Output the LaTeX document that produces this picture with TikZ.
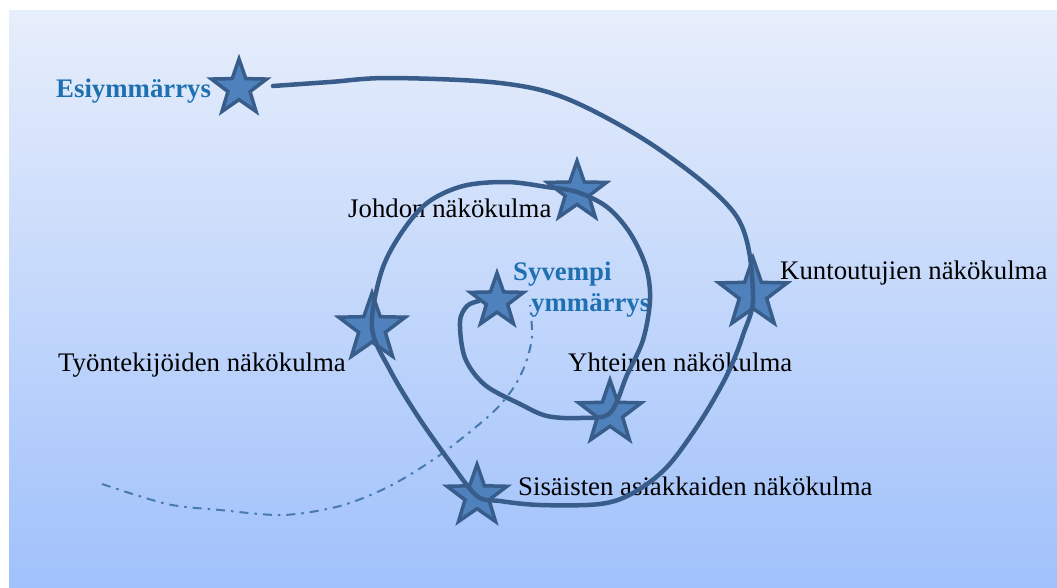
\documentclass[tikz,border=0pt]{standalone}
\usepackage{fontspec}
\setmainfont{Liberation Serif}
\usetikzlibrary{shapes.geometric}

\definecolor{starfill}{RGB}{79,129,189}
\definecolor{starline}{RGB}{56,93,138}
\definecolor{inkblue}{RGB}{31,112,176}
\definecolor{trailblue}{RGB}{72,122,176}
\definecolor{skytop}{RGB}{231,238,251}
\definecolor{skybottom}{RGB}{160,193,251}

\begin{document}
\begin{tikzpicture}[x=1pt, y=-1pt,
    spot/.style={star, star points=5, star point ratio=2.5, draw=starline, fill=starfill, line width=3.5pt, inner sep=0pt},
    view/.style={anchor=base west, inner sep=0pt, font=\fontsize{26.8}{32}\selectfont},
    goal/.style={view, text=inkblue, font=\fontsize{26.8}{32}\selectfont\bfseries}]
    \useasboundingbox (0,0) rectangle (1057,587);
    \fill[top color=skytop, bottom color=skybottom] (9,10) rectangle (1057,587);

    \coordinate (trailstart) at (102, 484);
    \coordinate (trailend) at (530, 305);
    \draw[trailblue, line width=2pt, dash pattern=on 9pt off 6pt on 2.5pt off 6pt]
        plot[smooth] coordinates {(trailstart) (167,504) (220,510) (283,515) (340,506) (390,486) (440,455) (490,415) (512,390) (525,365) (532,337) (trailend)};

    \node[spot, minimum size=58pt] at (239, 88)(esi){};
    \node[spot, minimum size=62pt] at (577, 192)(johdon){};
    \node[spot, minimum size=72pt] at (753, 294)(kunt){};
    \node[spot, minimum size=70pt] at (372, 328)(tyo){};
    \node[spot, minimum size=66pt] at (610, 413)(yht){};
    \node[spot, minimum size=63pt] at (477, 496)(sis){};
    \node[spot, minimum size=56pt] at (497, 301)(syv){};

    \node[goal] at (56, 97)(esitext){Esiymmärrys};
    \node[goal] at (513, 280)(syvtext){Syvempi};
    \node[goal] at (531, 311)(ymmtext){ymmärrys};
    \node[view] at (348, 217)(johdontext){Johdon näkökulma};
    \node[view] at (780, 279)(kunttext){Kuntoutujien näkökulma};
    \node[view] at (58, 371)(tyotext){Työntekijöiden näkökulma};
    \node[view] at (568, 371)(yhttext){Yhteinen näkökulma};
    \node[view] at (518, 495)(sistext){Sisäisten asiakkaiden näkökulma};

    \coordinate (spiralstart) at (273, 86);
    \draw[starline, line width=4.5pt, line cap=round, line join=round]
        plot[smooth, tension=0.55] coordinates {(spiralstart) (330,82) (390,78) (500,83) (570,100) (660,150) (737,217) (kunt.center) (743,335) (727,375) (700,422) (667,467) (633,493) (600,504) (540,505) (500,501) (sis.center) (450,462) (417,415) (390,370) (tyo.center) (381,273) (400,235) (427,203) (463,186) (507,182) (547,187) (johdon.center) (607,207) (630,233) (646,267) (650,300) (643,340) (627,375) (yht.center) (580,418) (547,416) (520,404) (485,385) (465,358) (460,322) (467,306) (syv.west)};
\end{tikzpicture}
\end{document}
